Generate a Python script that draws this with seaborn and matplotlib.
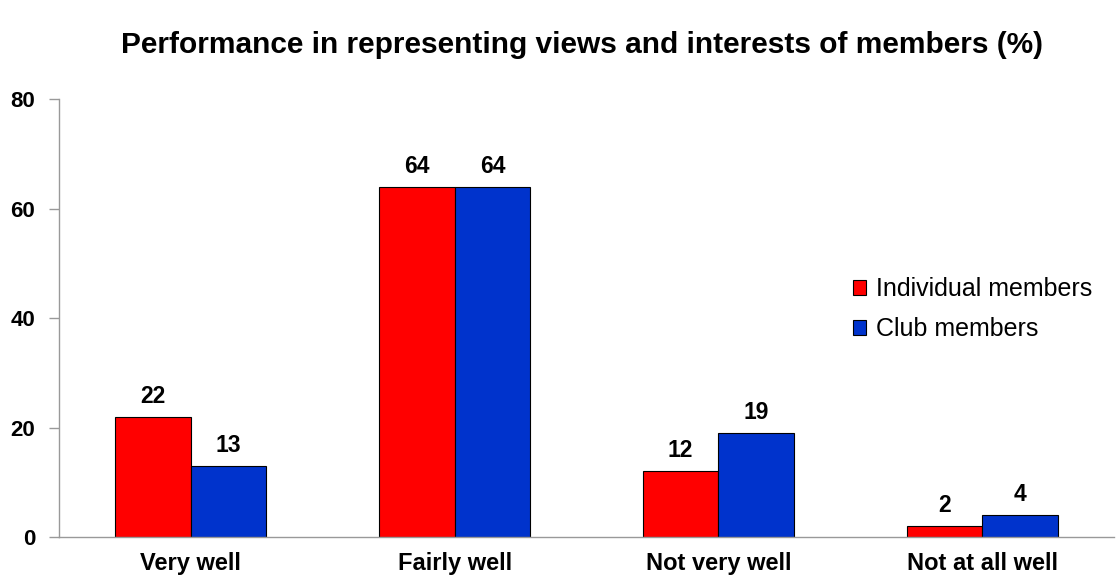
import matplotlib
matplotlib.use("Agg")
import matplotlib.pyplot as plt
import seaborn as sns
import pandas as pd
import numpy as np

categories = ["Very well", "Fairly well", "Not very well", "Not at all well"]
series = ["Individual members", "Club members"]
individual = [22, 64, 12, 2]
club = [13, 64, 19, 4]
colors = ["#FF0000", "#0033CC"]
yticks = [0, 20, 40, 60, 80]

df = pd.DataFrame({
    "category": categories * 2,
    "group": [series[0]] * len(categories) + [series[1]] * len(categories),
    "value": individual + club,
})

sns.set_style("white")
plt.rcParams["font.family"] = ["Liberation Sans", "DejaVu Sans"]
plt.rcParams["text.color"] = "black"
plt.rcParams["xtick.color"] = "black"
plt.rcParams["ytick.color"] = "black"

fig = plt.figure(figsize=(11.17, 5.77), dpi=100)
ax = fig.add_axes([0.0528, 0.0693, 0.9445, 0.7591])

sns.barplot(data=df, x="category", y="value", hue="group", order=categories,
            hue_order=series, palette=colors, width=0.573, saturation=1,
            edgecolor="black", linewidth=0.8, ax=ax)

for cont in ax.containers:
    ax.bar_label(cont, labels=[f"{v:g}" for v in cont.datavalues], padding=6.5,
                 fontsize=16.5, fontweight="bold", color="black")

ax.set_xlim(-0.5, len(categories) - 0.5)
ax.set_ylim(0, 80)
ax.set_yticks(yticks)
ax.set_yticklabels([str(t) for t in yticks], fontsize=16, fontweight="bold")
ax.set_xticks(range(len(categories)))
ax.set_xticklabels(categories, fontsize=17, fontweight="bold")
ax.set_xticks(np.arange(-0.5, len(categories)), minor=True)
ax.tick_params(axis="x", which="major", length=0, pad=11, labelcolor="black")
ax.tick_params(axis="x", which="minor", length=7, width=1, color="#999999", direction="out")
ax.tick_params(axis="y", length=7, width=1, color="#999999", direction="out", pad=10,
               left=True, labelcolor="black")
ax.set_xlabel("")
ax.set_ylabel("")

for side in ["top", "right"]:
    ax.spines[side].set_visible(False)
for side in ["left", "bottom"]:
    ax.spines[side].set_color("#999999")
    ax.spines[side].set_linewidth(1)

leg = ax.legend(loc="center left", bbox_to_anchor=(0.7526, 0.52), frameon=False,
                fontsize=18, handlelength=0.52, handleheight=0.52, handletextpad=0.4,
                labelspacing=0.65, borderpad=0, borderaxespad=0)

fig.text(0.521, 0.922, "Performance in representing views and interests of members (%)",
         ha="center", va="center", fontsize=21.5, fontweight="bold", color="black")

fig.savefig("out.png", dpi=100)
